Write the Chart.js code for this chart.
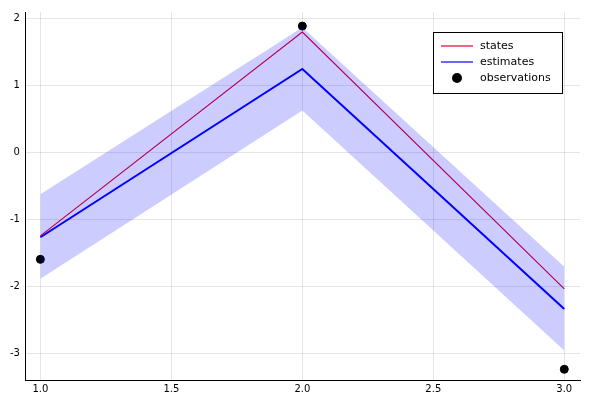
<!DOCTYPE html>
<html>
<head>
<script src="https://cdn.jsdelivr.net/npm/chart.js@4"></script>
<style>body{margin:0;background:#fff}#wrap{width:600px;height:400px}</style>
</head>
<body>
<div id="wrap"><canvas id="c"></canvas></div>
<script>
var xs = [1, 2, 3];
var states = [-1.25, 1.79, -2.04];
var estimates = [-1.27, 1.24, -2.34];
var upper = [-0.63, 1.86, -1.71];
var lower = [-1.89, 0.62, -2.96];
var observations = [-1.6, 1.88, -3.24];
var yTicks = [-3, -2, -1, 0, 1, 2];

function pts(v) { return xs.map(function (x, i) { return {x: x, y: v[i]}; }); }

// legend box drawn inside the plot, top right
var legendBox = {
    id: 'legendBox',
    afterDraw: function (chart) {
        var c = chart.ctx, x = 433, y = 32, w = 129, h = 61;
        c.save();
        c.fillStyle = '#fff'; c.fillRect(x, y, w, h);
        c.strokeStyle = '#000'; c.lineWidth = 1; c.strokeRect(x + 0.5, y + 0.5, w, h);
        c.font = '11px "DejaVu Sans"'; c.fillStyle = '#000'; c.textBaseline = 'middle';
        var items = [['states', 'line', '#e0002a'], ['estimates', 'line', '#0000ff'], ['observations', 'dot', '#000']];
        items.forEach(function (it, i) {
            var yy = y + 14 + i * 16;
            if (it[1] == 'line') {
                c.strokeStyle = it[2]; c.lineWidth = 1.2;
                c.beginPath(); c.moveTo(x + 8, yy); c.lineTo(x + 40, yy); c.stroke();
            } else {
                c.fillStyle = it[2]; c.beginPath(); c.arc(x + 24, yy, 5, 0, Math.PI * 2); c.fill();
            }
            c.fillStyle = '#000'; c.fillText(it[0], x + 47, yy);
        });
        c.restore();
    }
};

new Chart(document.getElementById('c'), {
    type: 'scatter',
    data: {
        datasets: [
            {data: pts(upper), showLine: true, borderWidth: 0, pointRadius: 0, fill: '+1', backgroundColor: 'rgba(0,0,255,0.2)'},
            {data: pts(lower), showLine: true, borderWidth: 0, pointRadius: 0, fill: false},
            {data: pts(states), showLine: true, borderColor: '#e0002a', borderWidth: 1.2, pointRadius: 0},
            {data: pts(estimates), showLine: true, borderColor: '#0000ff', borderWidth: 2, pointRadius: 0},
            {data: pts(observations), pointRadius: 4, backgroundColor: '#000', borderColor: '#000'}
        ]
    },
    options: {
        responsive: true, maintainAspectRatio: false, animation: false,
        layout: {padding: {top: 8, right: 20, left: 4, bottom: 2}},
        plugins: {legend: {display: false}, tooltip: {enabled: false}},
        scales: {
            x: {
                type: 'linear', min: 0.945, max: 3.06,
                afterBuildTicks: function (s) { s.ticks = [1, 1.5, 2, 2.5, 3].map(function (v) { return {value: v}; }); },
                ticks: {font: {size: 10, family: 'DejaVu Sans'}, color: '#000', callback: function (v) { return v.toFixed(1); }},
                grid: {color: 'rgba(0,0,0,0.1)', drawTicks: false},
                border: {color: '#000'}
            },
            y: {
                min: -3.4, max: 2.09,
                afterBuildTicks: function (s) { s.ticks = yTicks.map(function (v) { return {value: v}; }); },
                ticks: {font: {size: 10, family: 'DejaVu Sans'}, color: '#000', padding: 6},
                grid: {color: 'rgba(0,0,0,0.1)', drawTicks: false},
                border: {color: '#000'}
            }
        }
    },
    plugins: [legendBox]
});
</script>
</body>
</html>
